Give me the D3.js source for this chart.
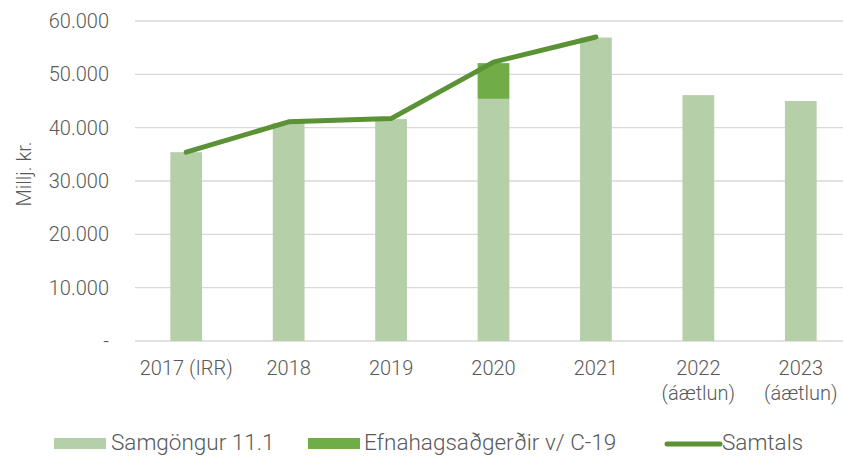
<!DOCTYPE html>
<html>
<head>
<meta charset="utf-8">
<script src="https://cdn.jsdelivr.net/npm/d3@7"></script>
<style>
  body { margin: 0; background: #fff; }
  svg text { font-family: Roboto, "Noto Sans", sans-serif; font-weight: 300; fill: #595959; }
</style>
</head>
<body>
<svg id="chart"></svg>
<script>
// gögn lesin af myndinni
const years = ['2017 (IRR)', '2018', '2019', '2020', '2021', '2022\n(áætlun)', '2023\n(áætlun)'];
const samgongur = [35400, 40900, 41600, 45400, 56900, 46100, 45000];
const efnahags = [0, 0, 0, 6700, 0, 0, 0];
const samtals = [35400, 41100, 41700, 52300, 57000, null, null];
const yTicks = [0, 10000, 20000, 30000, 40000, 50000, 60000];

const width = 843, height = 456;
const margin = {top: 21, right: -9, bottom: 115, left: 135};

const svg = d3.select('#chart')
    .attr('width', width)
    .attr('height', height);

const innerW = width - margin.left - margin.right;
const innerH = height - margin.top - margin.bottom;

const chart = svg.append('g')
    .attr('transform', `translate(${margin.left}, ${margin.top})`);

const xscale = d3.scaleBand()
    .domain(years)
    .range([0, innerW])
    .paddingInner(0.69)
    .paddingOuter(0.345);

const yscale = d3.scaleLinear()
    .domain([0, 60000])
    .range([innerH, 0]);

// gridlínur
chart.append('g')
    .selectAll('line')
    .data(yTicks)
    .join('line')
    .attr('x1', 0)
    .attr('x2', innerW)
    .attr('y1', d => yscale(d))
    .attr('y2', d => yscale(d))
    .attr('stroke', '#d9d9d9')
    .attr('stroke-width', 1.3);

// y ás
const fmt = d => d === 0 ? '-' : d3.format(',')(d).replace(/,/g, '.');
const yaxis = d3.axisLeft(yscale).tickValues(yTicks).tickFormat(fmt).tickSize(0).tickPadding(26);
const yg = chart.append('g').call(yaxis);
yg.select('.domain').remove();
yg.selectAll('text')
    .style('font-size', '20px')
    .style('fill', '#595959');

// súlur
const stack = d3.stack().keys(['samgongur', 'efnahags'])(
    years.map((y, i) => ({year: y, samgongur: samgongur[i], efnahags: efnahags[i]}))
);
const colors = {samgongur: '#b5cfa8', efnahags: '#70ad47'};

chart.append('g')
    .selectAll('g')
    .data(stack)
    .join('g')
    .attr('fill', d => colors[d.key])
    .selectAll('rect')
    .data(d => d)
    .join('rect')
    .attr('x', d => xscale(d.data.year))
    .attr('y', d => yscale(d[1]))
    .attr('width', xscale.bandwidth())
    .attr('height', d => yscale(d[0]) - yscale(d[1]));

// lína
const line = d3.line()
    .defined(d => d != null)
    .x((d, i) => xscale(years[i]) + xscale.bandwidth() / 2)
    .y(d => yscale(d));

chart.append('path')
    .datum(samtals)
    .attr('fill', 'none')
    .attr('stroke', '#5b9235')
    .attr('stroke-width', 5)
    .attr('stroke-linecap', 'round')
    .attr('stroke-linejoin', 'round')
    .attr('d', line);

// x ás
const xg = chart.append('g')
    .attr('transform', `translate(0, ${innerH})`);
xg.selectAll('text')
    .data(years)
    .join('text')
    .attr('x', d => xscale(d) + xscale.bandwidth() / 2)
    .attr('y', 34)
    .attr('text-anchor', 'middle')
    .style('font-size', '20px')
    .each(function(d) {
        const parts = d.split('\n');
        d3.select(this).selectAll('tspan')
            .data(parts)
            .join('tspan')
            .attr('x', xscale(d) + xscale.bandwidth() / 2)
            .attr('dy', (p, i) => i === 0 ? 0 : 25)
            .text(p => p);
    });

// y ás titill
svg.append('text')
    .attr('transform', 'rotate(-90)')
    .attr('x', -174)
    .attr('y', 31)
    .attr('text-anchor', 'middle')
    .style('font-size', '20px')
    .text('Millj. kr.');

// skýringar
const legend = svg.append('g').attr('transform', 'translate(0, 443)');
legend.append('rect').attr('x', 54).attr('y', -5).attr('width', 52).attr('height', 11).attr('fill', colors.samgongur);
legend.append('text').attr('x', 111).attr('y', 7).style('font-size', '22.5px').text('Samgöngur 11.1');
legend.append('rect').attr('x', 308).attr('y', -5).attr('width', 52).attr('height', 11).attr('fill', colors.efnahags);
legend.append('text').attr('x', 364).attr('y', 7).style('font-size', '22.5px').text('Efnahagsaðgerðir v/ C-19');
legend.append('line').attr('x1', 667).attr('x2', 720).attr('y1', 1).attr('y2', 1)
    .attr('stroke', '#5b9235').attr('stroke-width', 5).attr('stroke-linecap', 'round');
legend.append('text').attr('x', 722).attr('y', 7).style('font-size', '22.5px').text('Samtals');
</script>
</body>
</html>
